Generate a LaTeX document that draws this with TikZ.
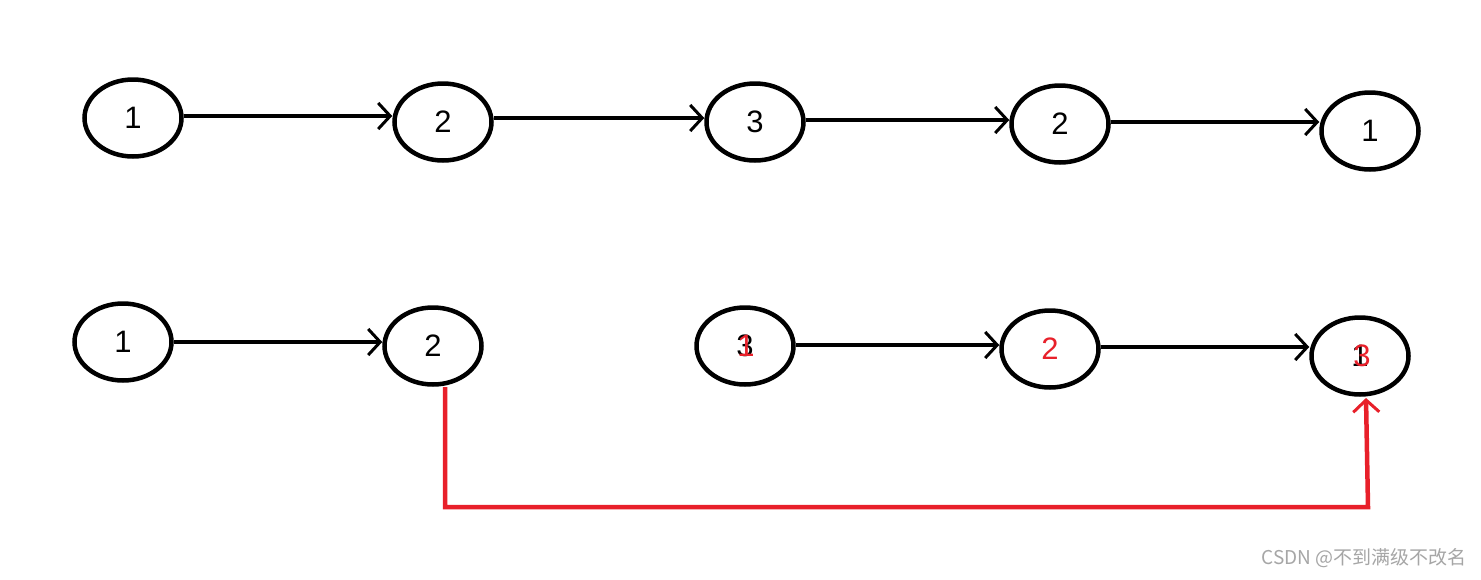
\documentclass[tikz,border=0pt]{standalone}
\usepackage{fontspec}
\setmainfont{Liberation Sans}
\newfontfamily\cjk{Noto Sans CJK SC}
\usetikzlibrary{arrows.meta,shapes.geometric}
\definecolor{penred}{HTML}{E8202A}
\tikzset{
  nd/.style={draw=black,line width=4.5pt,ellipse,minimum width=97pt,minimum height=77pt,inner sep=0pt,font=\fontsize{31}{31}\selectfont},
  conn/.style={line width=4.5pt,-{Straight Barb[length=12pt,width=26pt,line width=3pt]}},
  redconn/.style={penred,line width=4.5pt,line join=miter,-{Straight Barb[length=12pt,width=26pt,line width=3pt]}},
}
\begin{document}
\begin{tikzpicture}[x=1pt,y=-1pt]
\useasboundingbox (0,0) rectangle (1481,579);
\fill[white] (0,0) rectangle (1481,579);
% top row
\node[nd] (t1) at (133,118) {1};
\node[nd] (t2) at (443,122) {2};
\node[nd] (t3) at (755,122) {3};
\node[nd] (t4) at (1060,124) {2};
\node[nd] (t5) at (1370,131) {1};
\draw[conn] (t1.east |- 0,116) -- (t2.west |- 0,116);
\draw[conn] (t2.east |- 0,118) -- (t3.west |- 0,118);
\draw[conn] (t3.east |- 0,120) -- (t4.west |- 0,120);
\draw[conn] (t4.east |- 0,122) -- (t5.west |- 0,122);
% bottom row
\node[nd] (b1) at (123,342) {1};
\node[nd] (b2) at (433,346) {2};
\node[nd] (b3) at (745,346) {3};
\node[nd] (b4) at (1050,349) {\textcolor{penred}{2}};
\node[nd] (b5) at (1360,356) {1};
\node[font=\fontsize{31}{31}\selectfont,text=penred] (b3r) at (746,346) {1};
\node[font=\fontsize{31}{31}\selectfont,text=penred] (b5r) at (1362,356) {3};
\draw[conn] (b1.east |- 0,342) -- (b2.west |- 0,342);
\draw[conn] (b3.east |- 0,345) -- (b4.west |- 0,345);
\draw[conn] (b4.east |- 0,347) -- (b5.west |- 0,347);
\coordinate (r1) at (445,507);
\coordinate (r2) at (1368,507);
\draw[redconn] (445,387) -- (r1) -- (r2) -- (1366,398);
% watermark
\node[anchor=east,text=gray!70,font=\cjk\fontsize{19}{19}\selectfont] (wm) at (1470,558) {CSDN @不到满级不改名};
\end{tikzpicture}
\end{document}
